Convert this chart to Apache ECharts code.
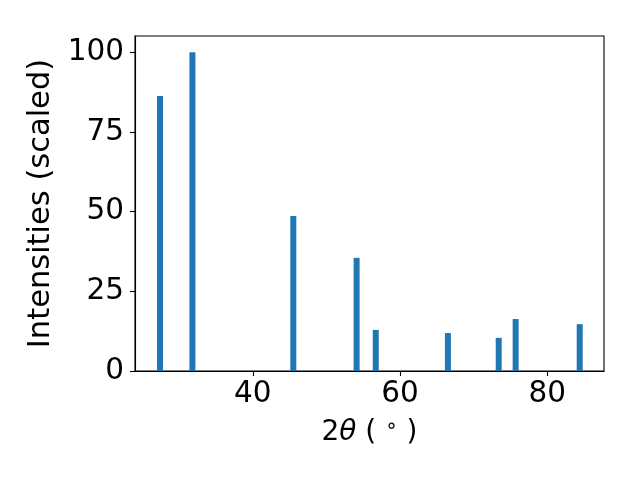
<!DOCTYPE html>
<html>
<head>
<meta charset="utf-8">
<script src="https://cdn.jsdelivr.net/npm/echarts@6/dist/echarts.min.js"></script>
<style>html,body{margin:0;padding:0;background:#fff}#c{width:640px;height:480px}</style>
</head>
<body>
<div id="c"></div>
<script>
const twoTheta = [27.4, 31.8, 45.5, 54.1, 56.7, 66.5, 73.4, 75.7, 84.4];
const intensities = [86.3, 100, 48.6, 35.5, 12.9, 11.9, 10.4, 16.3, 14.7];
const xTicks = [40, 60, 80];
const yTicks = [0, 25, 50, 75, 100];

const font = 'DejaVu Sans';
const chart = echarts.init(document.getElementById('c'), null, {renderer: 'canvas'});
chart.setOption({
  animation: false,
  backgroundColor: '#fff',
  grid: {left: 135, right: 36, top: 36, bottom: 109, show: true, borderColor: '#000', borderWidth: 1.1, backgroundColor: 'transparent'},
  xAxis: {
    type: 'value', min: 24.0, max: 87.7,
    axisLine: {show: true, lineStyle: {color: '#000', width: 1.1}},
    axisTick: {show: true, length: 5, inside: false, lineStyle: {color: '#000', width: 1.1},
      customValues: xTicks},
    axisLabel: {color: '#000', fontFamily: font, fontSize: 29.5, margin: 8, customValues: xTicks},
    splitLine: {show: false},
    name: '{n|2}{i|θ}{n| ( }{s|∘}{n| )}',
    nameLocation: 'middle', nameGap: 46,
    nameTextStyle: {rich: {
      n: {fontFamily: font, fontSize: 28, color: '#000'},
      i: {fontFamily: font, fontSize: 28, fontStyle: 'italic', color: '#000'},
      s: {fontFamily: font, fontSize: 20, color: '#000', verticalAlign: 'top', padding: [0,0,12,0]}
    }}
  },
  yAxis: {
    type: 'value', min: 0, max: 105.1,
    axisLine: {show: true, lineStyle: {color: '#000', width: 1.1}},
    axisTick: {show: true, length: 5, lineStyle: {color: '#000', width: 1.1}, customValues: yTicks},
    axisLabel: {color: '#000', fontFamily: font, fontSize: 29.5, margin: 11, customValues: yTicks},
    splitLine: {show: false},
    name: 'Intensities (scaled)', nameLocation: 'middle', nameGap: 74,
    nameTextStyle: {fontFamily: font, fontSize: 30.5, color: '#000'}
  },
  series: [{
    type: 'bar',
    data: twoTheta.map((x, i) => [x, intensities[i]]),
    barWidth: 6,
    itemStyle: {color: '#1f77b4'}
  }]
});
</script>
</body>
</html>
